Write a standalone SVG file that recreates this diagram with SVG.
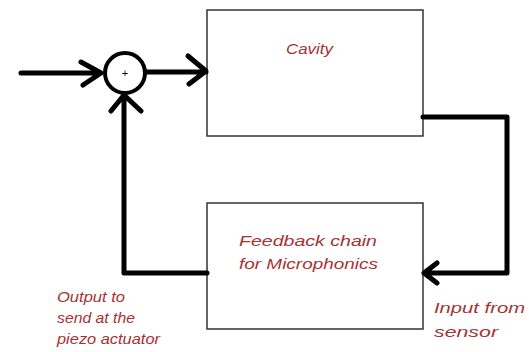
<svg xmlns="http://www.w3.org/2000/svg" width="529" height="352" viewBox="0 0 529 352">
<style>
.box{fill:#fff;stroke:#333;stroke-width:1.5}
.wire{fill:none;stroke:#000;stroke-width:5;stroke-linecap:round;stroke-linejoin:round}
.lbl{font-family:"Liberation Sans",Arial,sans-serif;font-style:italic;font-size:15px;fill:#a83232}
</style>
<rect width="529" height="352" fill="#fff"/>
<g id="cavity">
<rect class="box" x="207" y="10" width="216" height="126"/>
<text class="lbl" x="286" y="54" textLength="47" lengthAdjust="spacingAndGlyphs">Cavity</text>
</g>
<g id="feedback">
<rect class="box" x="207" y="203" width="216" height="126"/>
<text class="lbl" x="239" y="246" textLength="138" lengthAdjust="spacingAndGlyphs">Feedback chain</text>
<text class="lbl" x="239" y="269" textLength="139" lengthAdjust="spacingAndGlyphs">for Microphonics</text>
</g>
<g id="sum">
<circle cx="125" cy="73" r="20" fill="#fff" stroke="#000" stroke-width="4"/>
<text x="125" y="77" text-anchor="middle" font-family="Liberation Sans,Arial,sans-serif" font-size="11" fill="#000">+</text>
</g>
<g id="labels">
<text class="lbl" x="57" y="302" textLength="68" lengthAdjust="spacingAndGlyphs">Output to</text>
<text class="lbl" x="57" y="323" textLength="78" lengthAdjust="spacingAndGlyphs">send at the</text>
<text class="lbl" x="57" y="344" textLength="103" lengthAdjust="spacingAndGlyphs">piezo actuator</text>
<text class="lbl" x="434" y="313" textLength="91" lengthAdjust="spacingAndGlyphs">Input from</text>
<text class="lbl" x="434" y="337" textLength="64" lengthAdjust="spacingAndGlyphs">sensor</text>
</g>
<g id="connectors">
<path class="wire" d="M21 73 H101 M81 62 L101 73 L83 85"/>
<path class="wire" d="M146 72 H206 M188 56 L206 71 L189 84"/>
<path class="wire" d="M423 117 H507 V273 H424 M437 263 L424 273 L437 283"/>
<path class="wire" d="M207 273 H124 V95 M111 111 L124 95 L141 111"/>
</g>
</svg>
